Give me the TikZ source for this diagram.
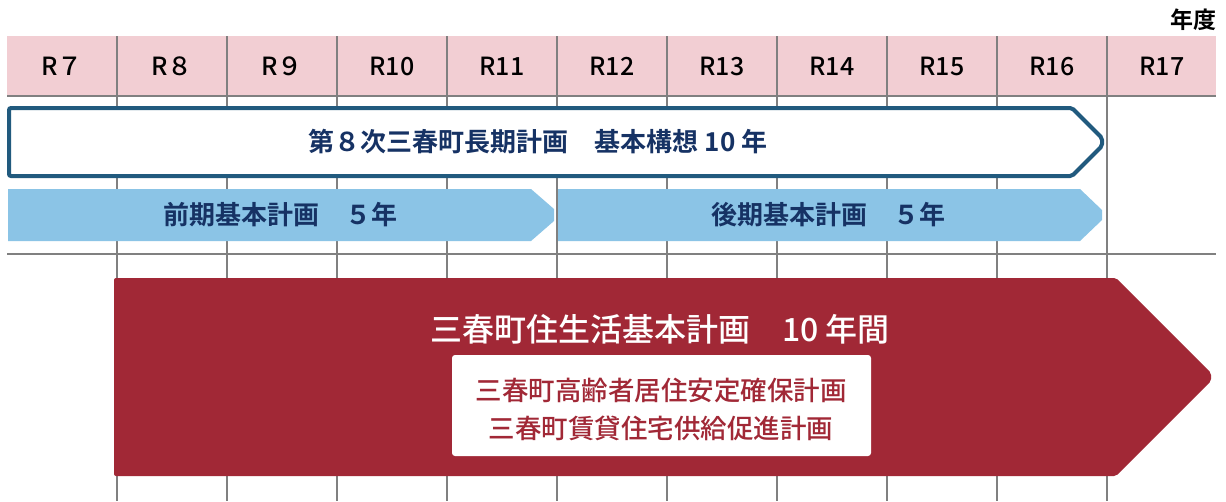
\documentclass[tikz,border=0pt]{standalone}
\usepackage{fontspec}
\setmainfont{Noto Sans CJK JP}[BoldFont={Noto Sans CJK JP Bold}]
\newfontfamily\jpmed{Noto Sans CJK JP Medium}
\definecolor{gridgray}{RGB}{128,128,128}
\definecolor{hdrpink}{RGB}{242,206,211}
\definecolor{navyline}{RGB}{33,90,126}
\definecolor{navytext}{RGB}{22,50,100}
\definecolor{lightblue}{RGB}{139,196,230}
\definecolor{wine}{RGB}{161,40,54}
\tikzset{
  gridline/.style={draw=gridgray,line width=2pt},
  hdrlabel/.style={font=\jpmed\fontsize{25}{25}\selectfont,text=black,inner sep=0pt,anchor=center},
  bluetext/.style={font=\bfseries\fontsize{26}{26}\selectfont,text=navytext,inner sep=0pt},
  redtitle/.style={font=\jpmed\fontsize{32}{32}\selectfont,text=white,inner sep=0pt},
  boxtext/.style={font=\jpmed\fontsize{26.5}{38}\selectfont,text=wine,inner sep=0pt,align=center},
}
\begin{document}
\begin{tikzpicture}[x=1pt,y=-1pt]
\useasboundingbox[fill=white] (0,0) rectangle (1226,501);
% header band
\fill[hdrpink] (7,36) rectangle (1216,96);
% vertical grid lines
\foreach \k in {0,...,9}{
  \draw[gridline] ({117+110*\k},36) -- ({117+110*\k},501);
}
% horizontal grid lines
\draw[gridline] (7,96) -- (1216,96);
\draw[gridline] (7,254) -- (1216,254);
% header labels
\foreach \lab [count=\i from 0] in {R７,R８,R９,R10,R11,R12,R13,R14,R15,R16,R17}{
  \node[hdrlabel] (hdr\i) at ({62+110*\i},66) {\lab};
}
\node[font=\bfseries\fontsize{23}{23}\selectfont,inner sep=0pt] (nendo) at (1193,20) {年度};
% long-term plan outline arrow
\draw[fill=white,draw=navyline,line width=4pt,rounded corners=2pt]
  (9,108) -- (1072,108) -- (1102,138) -- (1102,146) -- (1072,176) -- (9,176) -- cycle;
\node[bluetext] (kihon) at (538,142) {第８次三春町長期計画　基本構想 10 年};
% first / second half arrows
\fill[lightblue] (8,189) -- (531,189) -- (554,209) -- (554,221) -- (531,241) -- (8,241) -- cycle;
\fill[lightblue] (558,189) -- (1080,189) -- (1102,210) -- (1102,220) -- (1080,241) -- (558,241) -- cycle;
\node[bluetext] (zenki) at (280,215) {前期基本計画　５年};
\node[bluetext] (kouki) at (828,215) {後期基本計画　５年};
% housing plan arrow
\fill[wine,rounded corners=2pt] (114,278) -- (1116,278) -- (1211,373) -- (1211,381) -- (1116,476) -- (114,476) -- cycle;
\node[redtitle] (jyu) at (660,329) {三春町住生活基本計画　10 年間};
\fill[white,rounded corners=3pt] (452,355) rectangle (871,456);
\node[boxtext] (sub) at (661,409) {三春町高齢者居住安定確保計画\\三春町賃貸住宅供給促進計画};
\end{tikzpicture}
\end{document}
